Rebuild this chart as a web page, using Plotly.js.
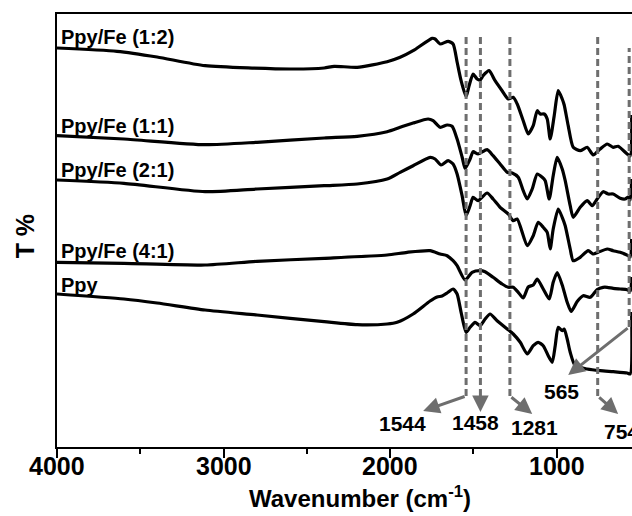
<!DOCTYPE html>
<html><head><meta charset="utf-8">
<script src="https://cdn.plot.ly/plotly-3.0.1.min.js"></script>
<style>html,body{margin:0;padding:0;background:#fff;overflow:hidden}</style>
</head><body><div id="chart" style="width:632px;height:516px"></div>
<script>
// Wavenumbers (cm-1) and transmittance (arbitrary, offset units) for each sample
const wn_12 = [4000,3640,3399,3111,2601,2396,2336,2198,2018,1940,1862,1748,1730,1700,1652,1622,1598,1574,1544,1526,1502,1478,1460,1442,1406,1370,1328,1291,1261,1237,1201,1171,1141,1117,1099,1075,1057,1039,1015,991,967,955,931,901,859,817,781,739,697,661,631,577,559,550];
const T_12  = [399,395.7,390,381.3,378,379,380.7,379.7,385.3,389.7,396.3,408.7,408,403,405.7,403,385,366.3,350.3,361.3,373,368,367,371.3,376.3,366.3,356.3,348,349.7,343,326.3,313,321.3,336.3,333,333,328,308,331.3,356.3,348,342,321.3,299.7,296.3,299.7,292,298,303,299.7,300.7,293,291,332];

const wn_11 = [4000,3598,3111,2799,2396,2198,2018,1940,1862,1772,1742,1700,1658,1628,1598,1568,1550,1520,1502,1472,1418,1382,1340,1297,1267,1231,1201,1177,1147,1117,1087,1069,1045,1021,997,967,949,919,901,859,817,787,757,721,691,661,619,589,571,559,550];
const T_11  = [311.3,308,302.3,304.7,309,310.7,315.3,319.7,324,328,326.3,319.7,322,320.7,308,290,278.5,288,295.3,293,297.3,291.3,283,274.7,274,269.7,256.3,248,258,273,269.7,266.3,248,271.3,289.7,278,266.3,241.3,229.7,239.7,246.3,241.3,248,255.3,253,253,248.7,248,250,247,268];

const wn_21 = [4000,3598,3111,2799,2396,2198,2018,1940,1862,1760,1730,1694,1652,1622,1598,1568,1544,1520,1502,1472,1418,1382,1340,1291,1261,1237,1177,1141,1111,1081,1057,1039,1021,991,967,949,919,901,859,811,781,751,697,661,619,571,559,550];
const T_21  = [267,263.7,255.3,258,261.3,263,268,274.7,281.3,289.7,288,282,286.3,283,273,251.3,231.3,241.3,249.7,246.3,254,248,239.7,233,226.3,228,201.3,211.3,224.7,219.7,214.7,198,218,238,229.7,221.3,198,186.3,189.7,196.3,193,194.7,198,196.3,194.7,191.3,190,208];

const wn_41 = [4000,3598,3111,2799,2396,2018,1898,1760,1700,1658,1622,1598,1550,1508,1460,1430,1382,1328,1291,1261,1231,1201,1171,1141,1117,1081,1045,1021,997,967,937,913,877,841,799,757,721,697,661,619,577,559,550];
const T_41  = [184.7,183.7,182,185.7,188.7,192,194.7,196.3,193,191.3,186.3,181.3,167,174.7,176.3,175.3,169.7,163,159.7,159.7,154.7,149,160,162,168,158,148,164.7,174.5,162,144.7,135.5,145.5,151.3,149.7,157.5,159.7,159.7,158.7,158,157.3,156,170];

const wn_ppy = [4000,3598,3399,3111,2799,2396,2198,2018,1958,1862,1760,1718,1688,1658,1622,1598,1574,1544,1520,1490,1460,1430,1400,1358,1297,1261,1219,1177,1141,1111,1081,1051,1027,1009,991,967,955,937,919,889,817,739,661,577,559,550];
const T_ppy  = [153,148,144,137,132,125.3,122.3,123,124.7,133,146,150,151,154,158,153,134.7,114.7,119.7,124.7,121.3,128,133,126.3,118,113,104.7,93,101.3,104.7,101.3,91.3,84.7,101.3,119.7,116.3,118,108,94.7,81.3,78,76.3,75.3,74,73,135];

const seriesNames = ["Ppy/Fe (1:2)","Ppy/Fe (1:1)","Ppy/Fe (2:1)","Ppy/Fe (4:1)","Ppy"];
const peakWn = [1544,1458,1281,754,565];
const peakLabels = ["1544","1458","1281","754","565"];
const xTickVals = [4000,3000,2000,1000];
const xTickText = ["4000","3000","2000","1000"];

const FONT = "Liberation Sans, Arial, sans-serif";
const GRAY = "#6e6e6e";

const allWn = [wn_12, wn_11, wn_21, wn_41, wn_ppy];
const allT = [T_12, T_11, T_21, T_41, T_ppy];
const traces = allWn.map((w,i)=>({
  x: w, y: allT[i], type:'scatter', mode:'lines', name: seriesNames[i],
  line:{color:'#000', width:3.2, shape:'spline', smoothing:0.6},
  hoverinfo:'skip'
}));

// label positions (data units) for series names
const nameY = [410, 321.3, 277.3, 195.7, 162.3];
const annotations = seriesNames.map((s,i)=>({
  x: 3990, y: nameY[i], xref:'x', yref:'y', text: s, showarrow:false,
  xanchor:'left', yanchor:'middle',
  font:{family:FONT, size:20, color:'#000', weight:'bold'}
}));

// dashed guide lines
const lineTop = [413, 413, 413, 411, 399];
const lineBot = [51, 51, 51, 51, 120];
const shapes = peakWn.map((w,i)=>({
  type:'line', xref:'x', yref:'y', x0:w, x1:w, y0:lineBot[i], y1:lineTop[i],
  line:{color:GRAY, width:3, dash:'7px,4px'}
}));

// arrows from guide line bottoms to labels
const arrowHead = [[1802,36],[1458,35],[1147,33],[631,33],[931,72]];
peakWn.forEach((w,i)=>{
  annotations.push({
    x: arrowHead[i][0], y: arrowHead[i][1], xref:'x', yref:'y',
    ax: w, ay: lineBot[i], axref:'x', ayref:'y',
    text:'', showarrow:true, arrowhead:2, arrowsize:1.1, arrowwidth:3,
    arrowcolor:GRAY, standoff:0, startstandoff:0
  });
});
const labelPos = [[1928,24],[1489,25],[1135,20],[613,16],[973,56]];
peakLabels.forEach((t,i)=>{
  annotations.push({
    x: labelPos[i][0], y: labelPos[i][1], xref:'x', yref:'y', text:t,
    showarrow:false, xanchor:'center', yanchor:'middle',
    font:{family:FONT, size:21, color:'#000', weight:'bold'}
  });
});

// x tick labels
xTickVals.forEach((v,i)=>{
  annotations.push({
    x: v, y: -0.044, xref:'x', yref:'paper', text: xTickText[i],
    showarrow:false, xanchor:'center', yanchor:'middle',
    font:{family:FONT, size:25, color:'#000', weight:'bold'}
  });
});

// axis titles as annotations
annotations.push({
  xref:'paper', yref:'paper', x:0.527, y:-0.115, text:'Wavenumber (cm<sup>-1</sup>)',
  showarrow:false, xanchor:'center', yanchor:'middle',
  font:{family:FONT, size:24, color:'#000', weight:'bold'}
});
annotations.push({
  xref:'paper', yref:'paper', x:-0.056, y:0.486, text:'T %', textangle:-90,
  showarrow:false, xanchor:'center', yanchor:'middle',
  font:{family:FONT, size:25, color:'#000', weight:'bold'}
});

const layout = {
  width:632, height:516,
  margin:{l:57, r:0, t:14, b:69},
  paper_bgcolor:'#fff', plot_bgcolor:'#fff',
  showlegend:false,
  xaxis:{
    range:[4000,548], autorange:false,
    tickvals:xTickVals, showticklabels:false,
    ticks:'outside', ticklen:9, tickwidth:2, tickcolor:'#000',
    minor:{dtick:500, tick0:0, ticks:'outside', ticklen:5, tickwidth:2, tickcolor:'#000'},
    showline:true, linecolor:'#000', linewidth:2, mirror:true,
    showgrid:false, zeroline:false
  },
  yaxis:{
    range:[0,433], autorange:false,
    showticklabels:false, ticks:'', showgrid:false, zeroline:false,
    showline:true, linecolor:'#000', linewidth:2, mirror:false
  },
  shapes: shapes,
  annotations: annotations
};

Plotly.newPlot('chart', traces, layout, {staticPlot:true, displayModeBar:false});
</script>
</body></html>
